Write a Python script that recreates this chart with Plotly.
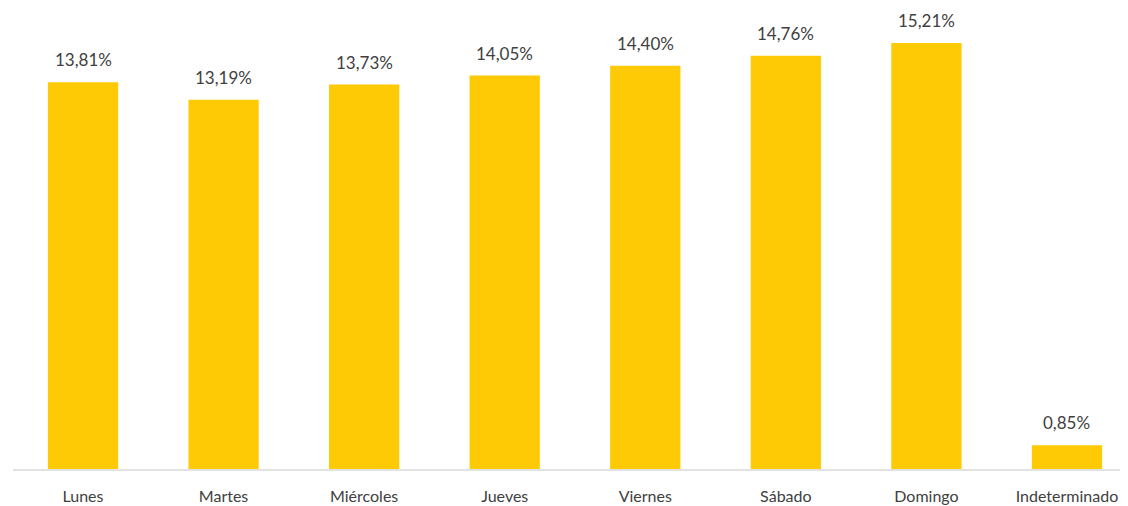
import plotly.graph_objects as go

# Day of week distribution (percent)
dias = ["Lunes", "Martes", "Miércoles", "Jueves", "Viernes", "Sábado", "Domingo", "Indeterminado"]
porcentajes = [13.81, 13.19, 13.73, 14.05, 14.40, 14.76, 15.21, 0.85]
etiquetas = ["13,81%", "13,19%", "13,73%", "14,05%", "14,40%", "14,76%", "15,21%", "0,85%"]

BAR_COLOR = "#FECA05"
TEXT_COLOR = "#404040"
FONT = "Lato"

fig = go.Figure()

fig.add_trace(
    go.Bar(
        x=dias,
        y=porcentajes,
        marker=dict(color=BAR_COLOR, line=dict(width=0)),
        width=0.5,
        hoverinfo="x+y",
    )
)

# value labels above each bar
for d, v, t in zip(dias, porcentajes, etiquetas):
    fig.add_annotation(
        x=d,
        y=v,
        text=t,
        showarrow=False,
        yanchor="bottom",
        yshift=10,
        font=dict(family=FONT, size=17, color=TEXT_COLOR),
    )

# page body has an 8px margin, so the figure is sized to fit inside the window
fig.update_layout(
    width=1120,
    height=498,
    margin=dict(l=5, r=0, t=13, b=37),
    plot_bgcolor="white",
    paper_bgcolor="white",
    showlegend=False,
    font=dict(family=FONT, color=TEXT_COLOR),
    xaxis=dict(
        range=[-0.498, 7.434],
        showgrid=False,
        showline=True,
        linecolor="#E2E2E2",
        linewidth=1.5,
        ticks="",
        tickfont=dict(family=FONT, size=16, color=TEXT_COLOR),
        ticklabelstandoff=12,
    ),
    yaxis=dict(
        range=[0, 16],
        visible=False,
        showgrid=False,
        zeroline=False,
    ),
)

fig.write_html("out.html")
